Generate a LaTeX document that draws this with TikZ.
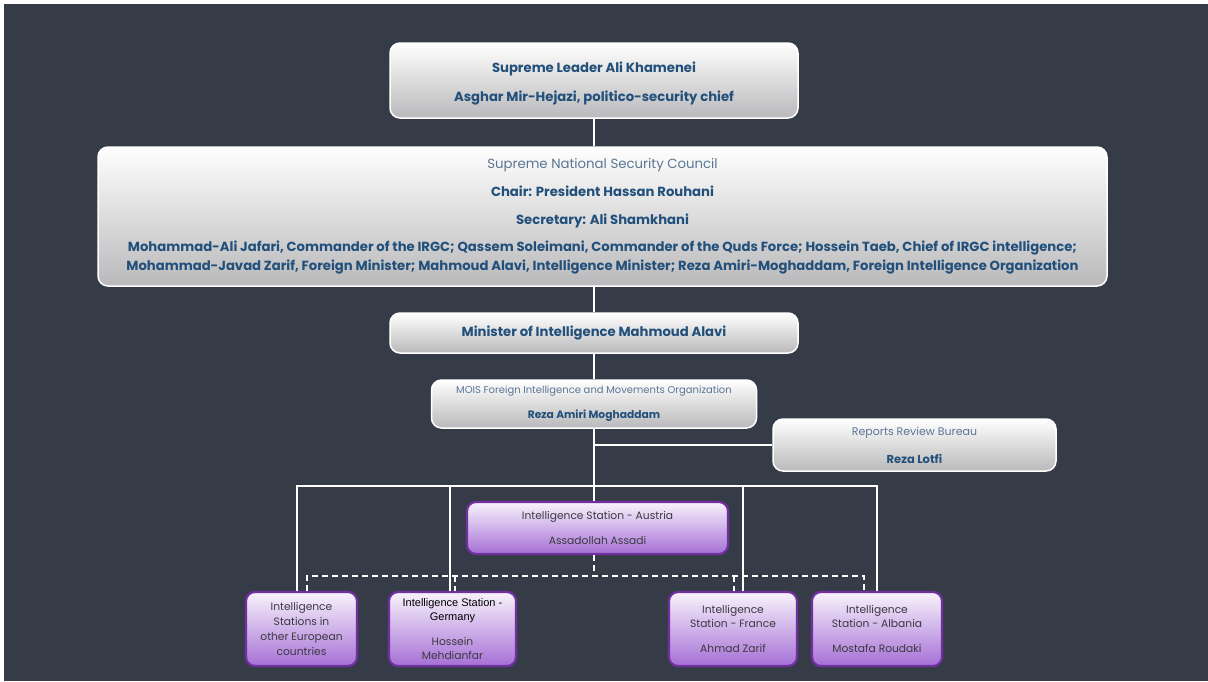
\documentclass[tikz,border=0pt]{standalone}
\usepackage{fontspec}
\setmainfont{Poppins}
\newfontfamily\tahomafont{Liberation Sans}

\definecolor{slate}{HTML}{363C47}
\definecolor{navy}{HTML}{22507B}
\definecolor{softnavy}{HTML}{5A7694}
\definecolor{plum}{HTML}{7030A0}
\definecolor{plumtop}{HTML}{F8F3FC}
\definecolor{plumbot}{HTML}{A670D6}
\definecolor{greybot}{HTML}{B9B9BB}
\definecolor{ink}{HTML}{3A3A40}

\newcommand\headfont{\fontsize{13.2}{13}\selectfont}
\newcommand\boxfont{\fontsize{10.7}{14}\selectfont}
\newcommand\notefont{\fontsize{10}{10}\selectfont}
\newcommand\germfont{\tahomafont\fontsize{11}{13}\selectfont\color{black}}

\tikzset{
	greybox/.style={draw=white, line width=1.5pt, rounded corners=10pt,
		top color=white, bottom color=greybot, text=navy, align=center,
		inner sep=0pt, font=\headfont\bfseries},
	plumbox/.style={draw=plum, line width=2.2pt, rounded corners=9pt,
		top color=plumtop, bottom color=plumbot, text=ink, align=center,
		inner sep=0pt, font=\boxfont},
	wire/.style={draw=white, line width=2pt},
	dashwire/.style={draw=white, line width=1.8pt, dash pattern=on 6pt off 4pt},
}

\begin{document}
\begin{tikzpicture}[x=1pt, y=-1pt]
			%frame
			\useasboundingbox (0, 0) rectangle (1208, 681);
			\fill[white]
				(0, 0) rectangle (1208, 681);
			\fill[slate]
				(4, 4) rectangle (1208, 681);

			% leadership
			\node[greybox, minimum width=408, minimum height=75] (leader) at (594, 80.5)
				{\rule{0pt}{16pt}Supreme Leader Ali Khamenei\\[14pt]Asghar Mir-Hejazi, politico-security chief};
			\node[greybox, minimum width=1009, minimum height=139, font=\fontsize{13.2}{19}\selectfont\bfseries] (council) at (602.5, 216.5)
				{{\mdseries\fontsize{13.3}{19}\selectfont\color{softnavy}Supreme National Security Council}\\[9pt]
				Chair: President Hassan Rouhani\\[9pt]
				Secretary: Ali Shamkhani\\[8pt]
				Mohammad-Ali Jafari, Commander of the IRGC; Qassem Soleimani, Commander of the Quds Force; Hossein Taeb, Chief of IRGC intelligence;\\
				Mohammad-Javad Zarif, Foreign Minister; Mahmoud Alavi, Intelligence Minister; Reza Amiri-Moghaddam, Foreign Intelligence Organization};
			\node[greybox, minimum width=408, minimum height=40] (minister) at (594, 333)
				{Minister of Intelligence Mahmoud Alavi};

			% MOIS
			\node[greybox, minimum width=325, minimum height=48, font=\notefont] (mois) at (594, 404)
				{{\color{softnavy}MOIS Foreign Intelligence and Movements Organization}\\[13pt]
				{\boxfont\bfseries Reza Amiri Moghaddam}};
			\node[greybox, minimum width=283, minimum height=52, font=\notefont] (reports) at (914.5, 445)
				{{\color{softnavy}\fontsize{11}{10}\selectfont Reports Review Bureau}\\[15pt]
				{\fontsize{11.5}{14}\selectfont\bfseries Reza Lotfi}};

			% stations
			\node[plumbox, minimum width=261, minimum height=52] (austria) at (597.5, 528)
				{Intelligence Station - Austria\\[11pt]Assadollah Assadi};
			\node[plumbox, minimum width=111, minimum height=74, font=\fontsize{10.7}{14.7}\selectfont] (europe) at (301.5, 629)
				{Intelligence\\Stations in\\other European\\countries};
			\node[plumbox, minimum width=127, minimum height=74] (germany) at (452.5, 629)
				{{\germfont Intelligence Station -}\\{\germfont Germany}\\[11pt]Hossein\\Mehdianfar};
			\node[plumbox, minimum width=128, minimum height=74] (france) at (733, 629)
				{Intelligence\\Station - France\\[11pt]Ahmad Zarif};
			\node[plumbox, minimum width=130, minimum height=74] (albania) at (877, 629)
				{Intelligence\\Station - Albania\\[11pt]Mostafa Roudaki};

			% solid lines
			\coordinate (busL) at (297, 486);
			\coordinate (busG) at (450, 486);
			\coordinate (busF) at (743, 486);
			\coordinate (busR) at (877, 486);
			\draw[wire]
				(leader.south) -- (leader.south |- council.north);
			\draw[wire]
				(council.south -| minister.north) -- (minister.north);
			\draw[wire]
				(minister.south) -- (mois.north);
			\draw[wire]
				(mois.south) -- (mois.south |- austria.north);
			\draw[wire]
				(mois.south |- reports.west) -- (reports.west);
			\draw[wire]
				(busL |- europe.north) -- (busL) -- (busR) -- (busR |- albania.north);
			\draw[wire]
				(busG) -- (busG |- germany.north);
			\draw[wire]
				(busF) -- (busF |- france.north);

			% dashed lines
			\coordinate (dashL) at (307, 576);
			\coordinate (dashG) at (455, 576);
			\coordinate (dashF) at (734, 576);
			\coordinate (dashR) at (864, 576);
			\draw[dashwire]
				(mois.south |- austria.south) -- (mois.south |- dashL);
			\draw[dashwire]
				(dashL |- europe.north) -- (dashL) -- (dashR) -- (dashR |- albania.north);
			\draw[dashwire]
				(dashG) -- (dashG |- germany.north);
			\draw[dashwire]
				(dashF) -- (dashF |- france.north);
\end{tikzpicture}
\end{document}
